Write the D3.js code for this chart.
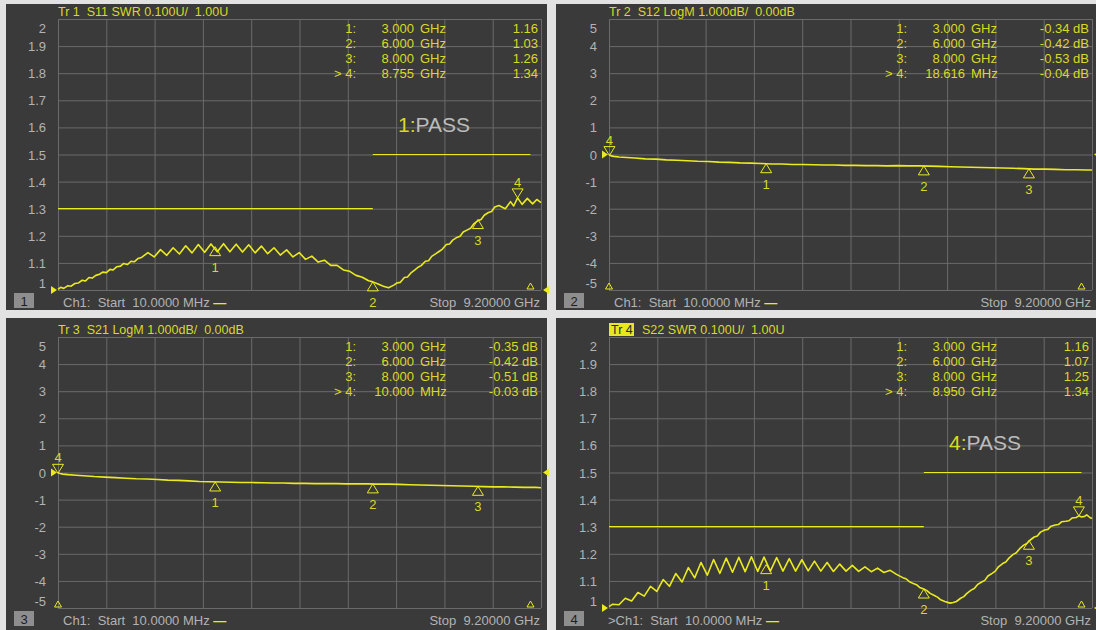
<!DOCTYPE html>
<html>
<head>
<meta charset="utf-8">
<script src="https://cdn.jsdelivr.net/npm/d3@7"></script>
<style>
  body { margin: 0; background: #e2e2e2; }
  svg text { font-family: "Liberation Sans", Arial, sans-serif; white-space: pre; }
</style>
</head>
<body>
<div id="chart"></div>
<script>
// sweep (GHz)
const startGHz = 0.01, stopGHz = 9.2;

// y divisions
const swrTicks = [1, 1.1, 1.2, 1.3, 1.4, 1.5, 1.6, 1.7, 1.8, 1.9, 2];
const logTicks = [-5, -4, -3, -2, -1, 0, 1, 2, 3, 4, 5];

// traces: [GHz, value]
const s11Trace = [
  [0.01,1.002],[0.06,1.010],[0.12,1.006],[0.2,1.016],[0.26,1.014],[0.33,1.024],[0.4,1.026],[0.47,1.036],
  [0.53,1.033],[0.6,1.046],[0.66,1.044],[0.73,1.054],[0.8,1.058],[0.86,1.066],[0.93,1.064],[1.0,1.076],
  [1.06,1.074],[1.13,1.086],[1.2,1.088],[1.26,1.098],[1.33,1.094],[1.4,1.106],[1.46,1.104],[1.53,1.116],
  [1.6,1.120],[1.72,1.138],[1.84,1.122],[1.96,1.149],[2.08,1.128],[2.20,1.156],[2.32,1.133],[2.44,1.163],
  [2.56,1.137],[2.68,1.168],[2.80,1.139],[2.92,1.170],[3.04,1.141],[3.16,1.171],[3.28,1.141],[3.40,1.169],
  [3.52,1.140],[3.64,1.167],[3.76,1.137],[3.88,1.162],[4.00,1.134],[4.12,1.156],[4.24,1.129],[4.36,1.148],
  [4.48,1.122],[4.60,1.138],[4.72,1.113],[4.84,1.125],[4.96,1.103],[5.08,1.110],[5.20,1.091],[5.32,1.091],
  [5.44,1.074],[5.56,1.069],[5.68,1.054],[5.80,1.047],[5.92,1.034],[6.00,1.030],[6.10,1.022],[6.20,1.014],
  [6.30,1.008],[6.40,1.018],[6.46,1.026],[6.52,1.028],[6.60,1.046],[6.66,1.048],[6.72,1.062],[6.80,1.074],
  [6.86,1.084],[6.92,1.090],[7.00,1.106],[7.06,1.108],[7.12,1.124],[7.20,1.134],[7.26,1.142],[7.32,1.150],
  [7.40,1.168],[7.46,1.170],[7.52,1.184],[7.60,1.194],[7.66,1.198],[7.72,1.214],[7.80,1.222],[7.86,1.228],
  [7.92,1.244],[8.00,1.256],[8.06,1.260],[8.12,1.276],[8.20,1.286],[8.26,1.290],[8.32,1.306],[8.40,1.312],
  [8.52,1.300],[8.62,1.326],[8.68,1.310],[8.755,1.340],[8.84,1.316],[8.94,1.338],[9.04,1.318],[9.12,1.334],
  [9.20,1.322]
];
const s12Trace = [
  [0.01,-0.01],[0.05,-0.05],[0.1,-0.07],[0.2,-0.09],[0.35,-0.11],[0.5,-0.13],[0.7,-0.16],[0.9,-0.17],
  [1.1,-0.20],[1.3,-0.21],[1.5,-0.23],[1.7,-0.25],[1.9,-0.26],[2.1,-0.28],[2.3,-0.29],[2.5,-0.31],
  [2.7,-0.32],[2.9,-0.33],[3.1,-0.35],[3.3,-0.35],[3.5,-0.37],[3.7,-0.37],[3.9,-0.38],[4.1,-0.39],
  [4.3,-0.39],[4.5,-0.40],[4.7,-0.40],[4.9,-0.41],[5.1,-0.41],[5.3,-0.42],[5.5,-0.41],[5.7,-0.42],
  [5.9,-0.42],[6.1,-0.43],[6.3,-0.44],[6.5,-0.45],[6.7,-0.46],[6.9,-0.47],[7.1,-0.48],[7.3,-0.49],
  [7.5,-0.50],[7.7,-0.51],[7.9,-0.52],[8.1,-0.54],[8.3,-0.54],[8.5,-0.55],[8.7,-0.56],[8.9,-0.56],
  [9.1,-0.57],[9.2,-0.57]
];
const s21Trace = [
  [0.01,-0.02],[0.05,-0.04],[0.1,-0.06],[0.2,-0.08],[0.35,-0.10],[0.5,-0.12],[0.7,-0.15],[0.9,-0.17],
  [1.1,-0.19],[1.3,-0.21],[1.5,-0.23],[1.7,-0.24],[1.9,-0.26],[2.1,-0.28],[2.3,-0.29],[2.5,-0.31],
  [2.7,-0.33],[2.9,-0.34],[3.1,-0.35],[3.3,-0.36],[3.5,-0.37],[3.7,-0.37],[3.9,-0.38],[4.1,-0.39],
  [4.3,-0.39],[4.5,-0.40],[4.7,-0.40],[4.9,-0.41],[5.1,-0.41],[5.3,-0.41],[5.5,-0.42],[5.7,-0.42],
  [5.9,-0.42],[6.1,-0.43],[6.3,-0.43],[6.5,-0.44],[6.7,-0.45],[6.9,-0.46],[7.1,-0.47],[7.3,-0.48],
  [7.5,-0.49],[7.7,-0.50],[7.9,-0.51],[8.1,-0.52],[8.3,-0.53],[8.5,-0.53],[8.7,-0.54],[8.9,-0.55],
  [9.1,-0.55],[9.2,-0.56]
];
const s22Trace = [
  [0.01,1.005],[0.08,1.014],[0.20,1.012],[0.32,1.036],[0.44,1.026],[0.56,1.057],[0.68,1.044],[0.80,1.080],
  [0.92,1.061],[1.04,1.105],[1.16,1.080],[1.28,1.127],[1.40,1.096],[1.52,1.149],[1.64,1.111],[1.76,1.168],
  [1.88,1.121],[2.00,1.179],[2.12,1.128],[2.24,1.184],[2.36,1.132],[2.48,1.187],[2.60,1.134],[2.72,1.189],
  [2.84,1.135],[2.96,1.188],[3.08,1.136],[3.20,1.186],[3.32,1.136],[3.44,1.182],[3.56,1.136],[3.68,1.178],
  [3.80,1.137],[3.92,1.173],[4.04,1.136],[4.16,1.168],[4.28,1.135],[4.40,1.162],[4.52,1.136],[4.64,1.157],
  [4.76,1.135],[4.88,1.152],[5.00,1.134],[5.12,1.147],[5.24,1.131],[5.36,1.139],[5.48,1.124],[5.60,1.112],
  [5.66,1.108],[5.72,1.098],[5.80,1.090],[5.86,1.086],[5.92,1.076],[6.00,1.070],[6.06,1.064],[6.12,1.054],
  [6.20,1.046],[6.26,1.040],[6.32,1.030],[6.40,1.024],[6.50,1.018],[6.56,1.020],[6.62,1.024],[6.70,1.036],
  [6.76,1.042],[6.82,1.054],[6.90,1.066],[6.96,1.072],[7.02,1.086],[7.10,1.096],[7.16,1.102],[7.22,1.118],
  [7.30,1.128],[7.36,1.136],[7.42,1.152],[7.50,1.164],[7.56,1.170],[7.62,1.184],[7.70,1.198],[7.76,1.204],
  [7.82,1.218],[7.90,1.232],[7.96,1.238],[8.02,1.250],[8.10,1.262],[8.16,1.266],[8.22,1.280],[8.30,1.288],
  [8.36,1.290],[8.42,1.302],[8.50,1.306],[8.56,1.308],[8.62,1.318],[8.70,1.320],[8.76,1.322],[8.82,1.332],
  [8.90,1.334],[8.95,1.340],[9.00,1.336],[9.06,1.338],[9.10,1.344],[9.16,1.334],[9.20,1.330]
];

// markers: [number, GHz, value]
const s11Markers = [[1, 3.0, 1.16], [2, 6.0, 1.03], [3, 8.0, 1.26], [4, 8.755, 1.34]];
const s12Markers = [[1, 3.0, -0.34], [2, 6.0, -0.42], [3, 8.0, -0.53], [4, 0.018616, -0.04]];
const s21Markers = [[1, 3.0, -0.35], [2, 6.0, -0.42], [3, 8.0, -0.51], [4, 0.01, -0.03]];
const s22Markers = [[1, 3.0, 1.16], [2, 6.0, 1.07], [3, 8.0, 1.25], [4, 8.95, 1.34]];

// limit segments: [from GHz, to GHz, SWR]
const swrLimits = [[0.01, 6.0, 1.3], [6.0, 9.0, 1.5]];

// small stimulus triangles at the bottom
const swrEdgeTicks = [9.0];
const logEdgeTicks = [0.01, 9.0];

const gridW = 483, gridH = 271;
const yellow = "#eaea1e", textYellow = "#d9d924", gridColor = "#6a6a6a", labelGray = "#b3b3b3";

const svg = d3.select("#chart").append("svg")
  .attr("width", 1096).attr("height", 630);

svg.append("rect").attr("width", 1096).attr("height", 630).attr("fill", "#e2e2e2");

const panels = [
  {n: 1, ox: 6, oy: 4, w: 541, h: 306, gx: 58, gy: 19, meas: "S11 SWR 0.100U/  1.00U", ticks: swrTicks,
   ref: 1, trace: s11Trace, markers: s11Markers, limits: swrLimits, edge: swrEdgeTicks, pass: true, fmt: "swr"},
  {n: 2, ox: 556, oy: 4, w: 540, h: 306, gx: 609, gy: 19, meas: "S12 LogM 1.000dB/  0.00dB", ticks: logTicks,
   ref: 0, trace: s12Trace, markers: s12Markers, limits: [], edge: logEdgeTicks, pass: false, fmt: "db"},
  {n: 3, ox: 6, oy: 318, w: 541, h: 312, gx: 58, gy: 337, meas: "S21 LogM 1.000dB/  0.00dB", ticks: logTicks,
   ref: 0, trace: s21Trace, markers: s21Markers, limits: [], edge: logEdgeTicks, pass: false, fmt: "db"},
  {n: 4, ox: 556, oy: 318, w: 540, h: 312, gx: 609, gy: 337, meas: "S22 SWR 0.100U/  1.00U", ticks: swrTicks,
   ref: 1, trace: s22Trace, markers: s22Markers, limits: swrLimits, edge: swrEdgeTicks, pass: true, fmt: "swr", active: true}
];

function freqText(f) {
  return f >= 1 ? [f.toFixed(3), "GHz"] : [(f * 1000).toFixed(3), "MHz"];
}

function drawPanel(p) {
  const g = svg.append("g");
  g.append("rect")
    .attr("x", p.ox).attr("y", p.oy).attr("width", p.w).attr("height", p.h)
    .attr("fill", "#3a3a3a");

  const x = d3.scaleLinear().domain([startGHz, stopGHz]).range([p.gx, p.gx + gridW]);
  const y = d3.scaleLinear().domain(d3.extent(p.ticks)).range([p.gy + gridH, p.gy]);
  const top = d3.max(p.ticks), bottom = d3.min(p.ticks);

  // horizontal grid + scale labels
  const yAxis = g.append("g")
    .attr("transform", `translate(${p.gx},0)`)
    .call(d3.axisLeft(y).tickValues(p.ticks).tickSize(-gridW).tickPadding(12)
      .tickFormat(d => String(+d.toFixed(1))));
  yAxis.select(".domain").remove();
  yAxis.selectAll("line").attr("stroke", gridColor);
  yAxis.selectAll("text")
    .attr("fill", labelGray)
    .style("font-size", "13px")
    .attr("dy", d => d === top ? "1.0em" : d === bottom ? "-0.22em" : "0.35em");

  // vertical grid: 10 divisions
  const xDivs = d3.range(11).map(i => startGHz + i * (stopGHz - startGHz) / 10);
  const xAxis = g.append("g")
    .attr("transform", `translate(0,${p.gy + gridH})`)
    .call(d3.axisBottom(x).tickValues(xDivs).tickSize(-gridH).tickFormat(""));
  xAxis.select(".domain").remove();
  xAxis.selectAll("line").attr("stroke", gridColor);

  // title
  if (p.active) {
    g.append("rect").attr("x", p.gx).attr("y", p.gy - 14).attr("width", 25).attr("height", 13).attr("fill", "#e8e820");
    g.append("text").attr("x", p.gx + 2).attr("y", p.gy - 3.5).attr("fill", "#2a2a2a")
      .style("font-size", "12.5px").text("Tr " + p.n);
    g.append("text").attr("x", p.gx + 33).attr("y", p.gy - 3.5).attr("fill", textYellow)
      .style("font-size", "12.5px").text(p.meas);
  } else {
    g.append("text").attr("x", p.gx).attr("y", p.gy - 3.5).attr("fill", textYellow)
      .style("font-size", "12.5px").text("Tr " + p.n + "  " + p.meas);
  }

  // limit lines
  g.selectAll(".lim").data(p.limits).join("line")
    .attr("x1", d => x(d[0])).attr("x2", d => x(d[1]))
    .attr("y1", d => y(d[2])).attr("y2", d => y(d[2]))
    .attr("stroke", yellow).attr("stroke-width", 1.2);

  // trace
  g.append("path").datum(p.trace)
    .attr("d", d3.line().x(d => x(d[0])).y(d => y(d[1])))
    .attr("fill", "none").attr("stroke", yellow).attr("stroke-width", 1.6)
    .attr("stroke-linejoin", "round");

  // reference level arrows
  const ry = y(p.ref);
  g.append("path").attr("d", `M${p.gx - 1},${ry} L${p.gx - 7},${ry - 4} L${p.gx - 7},${ry + 4} Z`).attr("fill", yellow);
  g.append("path").attr("d", `M${p.gx + gridW + 2},${ry} L${p.gx + gridW + 8},${ry - 4} L${p.gx + gridW + 8},${ry + 4} Z`).attr("fill", yellow);

  // stimulus ticks at bottom edge
  g.selectAll(".edge").data(p.edge).join("path")
    .attr("d", d => `M${x(d)},${p.gy + gridH - 7} L${x(d) - 3.5},${p.gy + gridH - 1} L${x(d) + 3.5},${p.gy + gridH - 1} Z`)
    .attr("fill", "none").attr("stroke", yellow).attr("stroke-width", 1);

  // markers
  const active = 4;
  p.markers.forEach(m => {
    const mx = x(m[1]), my = y(m[2]);
    const up = m[0] !== active;
    const s = up ? 1 : -1;
    g.append("path")
      .attr("d", `M${mx},${my} L${mx - 5.5},${my + s * 9} L${mx + 5.5},${my + s * 9} Z`)
      .attr("fill", "none").attr("stroke", yellow).attr("stroke-width", 1);
    g.append("text")
      .attr("x", mx).attr("y", up ? my + 25 : my - 11)
      .attr("text-anchor", "middle").attr("fill", textYellow)
      .style("font-size", "13px").text(m[0]);
  });

  // marker table
  p.markers.forEach((m, i) => {
    const by = p.gy + 13.5 + i * 15;
    const ft = freqText(m[1]);
    const val = p.fmt === "swr" ? m[2].toFixed(2) : m[2].toFixed(2) + " dB";
    const t = (xx, anchor, str) => g.append("text").attr("x", xx).attr("y", by)
      .attr("text-anchor", anchor).attr("fill", textYellow).style("font-size", "13px").text(str);
    t(p.gx + 298, "end", (m[0] === active ? "> " : "") + m[0] + ":");
    t(p.gx + 356, "end", ft[0]);
    t(p.gx + 362, "start", ft[1]);
    t(p.gx + 480, "end", val);
  });

  // limit test result
  if (p.pass) {
    const pt = g.append("text").attr("x", p.gx + 340).attr("y", p.gy + 112.5).style("font-size", "21px");
    pt.append("tspan").attr("fill", textYellow).text(p.n + ":");
    pt.append("tspan").attr("fill", "#bcbcbc").text("PASS");
  }

  // status strip
  const sb = p.gy + gridH;
  g.append("rect").attr("x", p.ox + 8).attr("y", sb + 3).attr("width", 20).attr("height", 15).attr("fill", "#8e8e8e");
  g.append("text").attr("x", p.ox + 18).attr("y", sb + 15.5).attr("text-anchor", "middle")
    .attr("fill", "#1e1e1e").style("font-size", "13px").text(p.n);
  const st = g.append("text").attr("x", p.active ? p.gx - 1 : p.gx + 5).attr("y", sb + 16.5)
    .attr("fill", labelGray).style("font-size", "13px");
  st.append("tspan").text((p.active ? ">" : "") + "Ch1:  Start  10.0000 MHz ");
  st.append("tspan").attr("fill", yellow).style("font-weight", "bold").text("—");
  g.append("text").attr("x", p.gx + gridW - 1).attr("y", sb + 16.5).attr("text-anchor", "end")
    .attr("fill", labelGray).style("font-size", "13px").text("Stop  9.20000 GHz");
}

panels.forEach(drawPanel);
</script>
</body>
</html>
